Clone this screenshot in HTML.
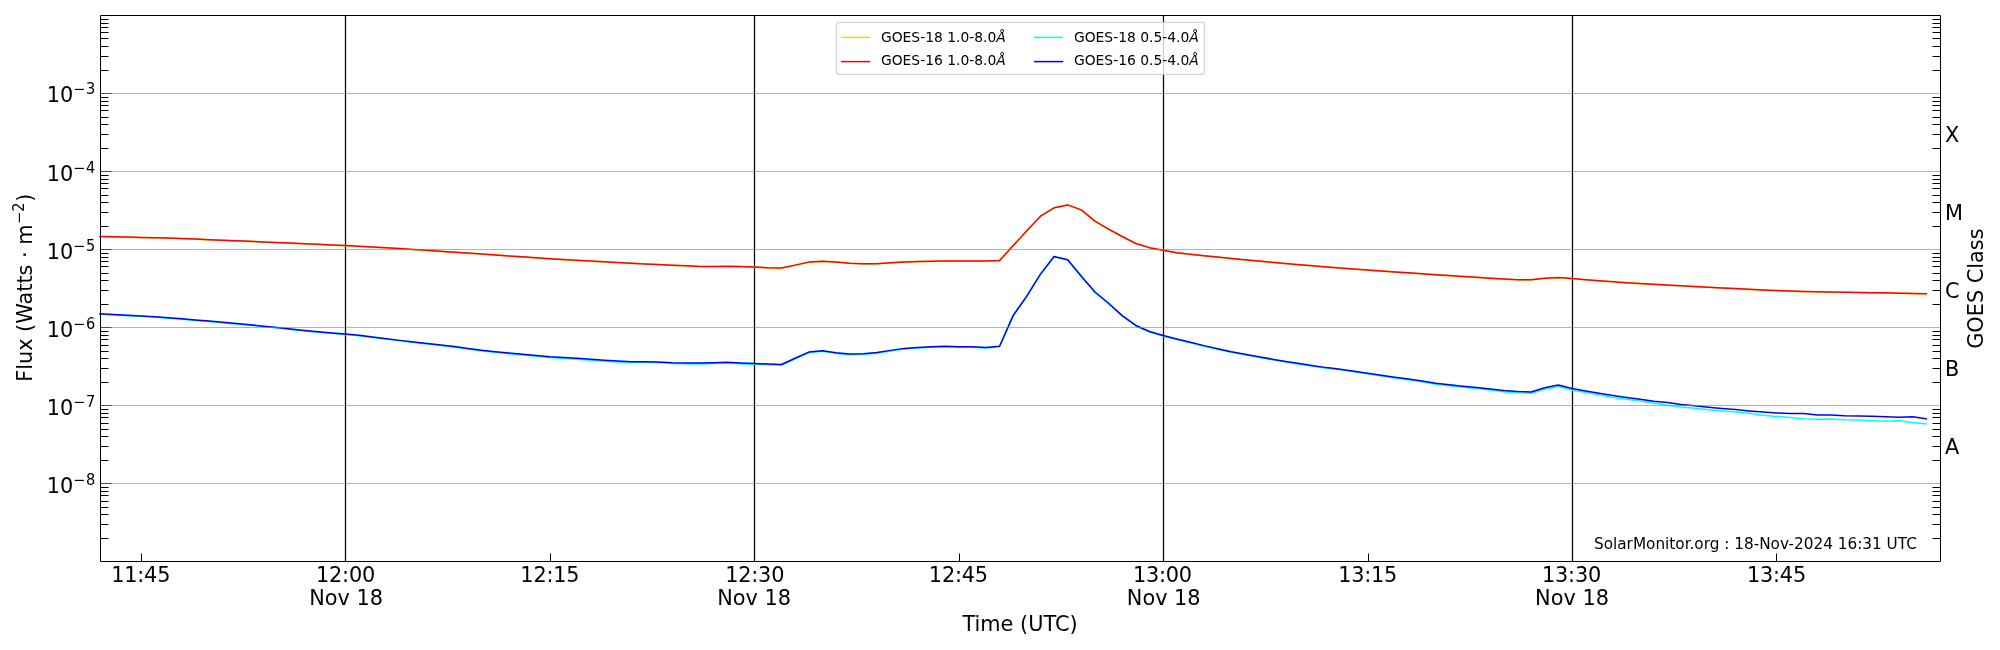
<!DOCTYPE html>
<html lang="en"><head><meta charset="utf-8"><title>GOES X-ray Flux</title>
<style>html,body{margin:0;padding:0;background:#fff}svg{display:block;will-change:transform}text{font-family:'DejaVu Sans','Liberation Sans',sans-serif;fill:#000}</style></head><body>
<svg width="2000" height="650" viewBox="0 0 2000 650">
<rect x="0" y="0" width="2000" height="650" fill="#ffffff"/>
<g stroke="#000" stroke-width="1.25" fill="none">
<line x1="345.5" y1="15.5" x2="345.5" y2="561.5"/>
<line x1="754.5" y1="15.5" x2="754.5" y2="561.5"/>
<line x1="1163.5" y1="15.5" x2="1163.5" y2="561.5"/>
<line x1="1572.5" y1="15.5" x2="1572.5" y2="561.5"/>
</g>
<g fill="none" stroke-width="1.5" stroke-linejoin="round" stroke-linecap="square">
<polyline stroke="#ffd700" points="100.00,236.65 113.63,236.94 127.26,237.25 140.89,237.55 154.52,237.86 168.15,238.18 181.78,238.72 195.41,239.27 209.04,239.81 222.67,240.36 236.30,240.90 249.93,241.45 263.56,242.05 277.19,242.65 290.81,243.24 304.44,243.84 318.07,244.44 331.70,245.04 345.33,245.64 358.96,246.42 372.59,247.19 386.22,247.97 399.85,248.74 413.48,249.63 427.11,250.52 440.74,251.41 454.37,252.30 468.00,253.19 481.63,254.12 495.26,255.08 508.89,256.04 522.52,257.01 536.15,257.97 549.78,258.93 563.41,259.70 577.04,260.46 590.67,261.23 604.30,261.99 617.93,262.75 631.56,263.45 645.19,264.08 658.81,264.71 672.44,265.33 686.07,265.96 699.70,266.59 713.33,266.53 726.96,266.45 740.59,266.74 754.22,267.04 767.85,267.91 781.48,268.14 795.11,265.26 808.74,262.27 822.37,261.38 836.00,262.12 849.63,263.30 863.26,263.93 876.89,263.85 890.52,262.92 904.15,262.08 917.78,261.75 931.41,261.41 945.04,261.07 958.67,261.11 972.30,261.18 985.93,261.24 999.56,260.67 1013.19,245.74 1026.81,230.78 1040.44,216.34 1054.07,207.96 1067.70,205.05 1081.33,210.03 1094.96,221.30 1108.59,229.26 1122.22,236.66 1135.85,243.67 1149.48,247.80 1163.11,250.36 1176.74,252.85 1190.37,254.49 1204.00,255.85 1217.63,257.20 1231.26,258.55 1244.89,259.91 1258.52,261.26 1272.15,262.50 1285.78,263.65 1299.41,264.79 1313.04,265.94 1326.67,267.08 1340.30,268.22 1353.93,269.17 1367.56,270.13 1381.19,271.08 1394.81,272.04 1408.44,272.99 1422.07,273.91 1435.70,274.80 1449.33,275.69 1462.96,276.58 1476.59,277.47 1490.22,278.36 1503.85,279.09 1517.48,279.82 1531.11,279.99 1544.74,278.42 1558.37,277.63 1572.00,278.61 1585.63,279.80 1599.26,280.83 1612.89,281.86 1626.52,282.89 1640.15,283.70 1653.78,284.43 1667.41,285.17 1681.04,285.91 1694.67,286.64 1708.30,287.37 1721.93,288.07 1735.56,288.77 1749.19,289.47 1762.81,290.16 1776.44,290.71 1790.07,291.21 1803.70,291.54 1817.33,291.87 1830.96,292.15 1844.59,292.36 1858.22,292.58 1871.85,292.80 1885.48,293.02 1899.11,293.30 1912.74,293.59 1926.37,293.89"/>
<polyline stroke="#ff0000" points="100.00,236.50 113.63,236.79 127.26,237.10 140.89,237.40 154.52,237.71 168.15,238.03 181.78,238.57 195.41,239.12 209.04,239.66 222.67,240.21 236.30,240.75 249.93,241.30 263.56,241.90 277.19,242.50 290.81,243.09 304.44,243.69 318.07,244.29 331.70,244.89 345.33,245.49 358.96,246.27 372.59,247.04 386.22,247.82 399.85,248.59 413.48,249.48 427.11,250.37 440.74,251.26 454.37,252.15 468.00,253.04 481.63,253.97 495.26,254.93 508.89,255.89 522.52,256.86 536.15,257.82 549.78,258.78 563.41,259.55 577.04,260.31 590.67,261.08 604.30,261.84 617.93,262.60 631.56,263.30 645.19,263.93 658.81,264.56 672.44,265.18 686.07,265.81 699.70,266.44 713.33,266.38 726.96,266.30 740.59,266.59 754.22,266.89 767.85,267.76 781.48,267.99 795.11,265.11 808.74,262.12 822.37,261.23 836.00,261.97 849.63,263.15 863.26,263.78 876.89,263.70 890.52,262.77 904.15,261.93 917.78,261.60 931.41,261.26 945.04,260.92 958.67,260.96 972.30,261.03 985.93,261.09 999.56,260.52 1013.19,245.59 1026.81,230.63 1040.44,216.19 1054.07,207.81 1067.70,204.90 1081.33,209.88 1094.96,221.15 1108.59,229.11 1122.22,236.51 1135.85,243.52 1149.48,247.65 1163.11,250.21 1176.74,252.70 1190.37,254.34 1204.00,255.70 1217.63,257.05 1231.26,258.40 1244.89,259.76 1258.52,261.11 1272.15,262.35 1285.78,263.50 1299.41,264.64 1313.04,265.79 1326.67,266.93 1340.30,268.07 1353.93,269.02 1367.56,269.98 1381.19,270.93 1394.81,271.89 1408.44,272.84 1422.07,273.76 1435.70,274.65 1449.33,275.54 1462.96,276.43 1476.59,277.32 1490.22,278.21 1503.85,278.94 1517.48,279.67 1531.11,279.84 1544.74,278.27 1558.37,277.48 1572.00,278.46 1585.63,279.65 1599.26,280.68 1612.89,281.71 1626.52,282.74 1640.15,283.55 1653.78,284.28 1667.41,285.02 1681.04,285.76 1694.67,286.49 1708.30,287.22 1721.93,287.92 1735.56,288.62 1749.19,289.32 1762.81,290.01 1776.44,290.56 1790.07,291.06 1803.70,291.39 1817.33,291.72 1830.96,292.00 1844.59,292.21 1858.22,292.43 1871.85,292.65 1885.48,292.87 1899.11,293.15 1912.74,293.44 1926.37,293.74"/>
<polyline stroke="#00ffff" points="100.00,314.25 113.63,314.93 127.26,315.64 140.89,316.35 154.52,317.11 168.15,318.20 181.78,319.29 195.41,320.38 209.04,321.47 222.67,322.69 236.30,323.94 249.93,325.19 263.56,326.62 277.19,328.05 290.81,329.49 304.44,330.92 318.07,332.18 331.70,333.33 345.33,334.49 358.96,335.81 372.59,337.41 386.22,339.12 399.85,340.83 413.48,342.38 427.11,343.96 440.74,345.56 454.37,347.16 468.00,349.09 481.63,351.03 495.26,352.37 508.89,353.67 522.52,354.96 536.15,356.26 549.78,357.56 563.41,358.40 577.04,359.22 590.67,360.19 604.30,361.21 617.93,361.95 631.56,362.49 645.19,362.59 658.81,362.71 672.44,363.45 686.07,363.71 699.70,363.90 713.33,363.50 726.96,363.09 740.59,363.64 754.22,364.22 767.85,364.86 781.48,365.21 795.11,358.94 808.74,352.79 822.37,351.33 836.00,353.38 849.63,354.75 863.26,354.35 876.89,353.17 890.52,350.99 904.15,348.98 917.78,348.02 931.41,347.20 945.04,346.72 958.67,347.32 972.30,347.18 985.93,347.93 999.56,346.70 1013.19,315.87 1026.81,296.48 1040.44,274.47 1054.07,256.89 1067.70,260.07 1081.33,276.53 1094.96,292.33 1108.59,303.66 1122.22,316.01 1135.85,325.87 1149.48,331.95 1163.11,335.91 1176.74,339.42 1190.37,342.66 1204.00,346.15 1217.63,349.24 1231.26,352.26 1244.89,354.83 1258.52,357.35 1272.15,359.70 1285.78,361.99 1299.41,364.18 1313.04,366.24 1326.67,368.21 1340.30,369.80 1353.93,371.80 1367.56,373.80 1381.19,375.90 1394.81,378.00 1408.44,379.80 1422.07,381.80 1435.70,384.30 1449.33,385.80 1462.96,387.20 1476.59,388.60 1490.22,390.10 1503.85,391.80 1517.48,392.80 1531.11,393.20 1544.74,389.20 1558.37,386.40 1572.00,390.00 1585.63,392.40 1599.26,394.80 1612.89,397.40 1626.52,399.20 1640.15,401.00 1653.78,403.00 1667.41,405.20 1681.04,407.00 1694.67,408.20 1708.30,409.70 1721.93,411.00 1735.56,412.10 1749.19,413.20 1762.81,415.20 1776.44,416.40 1790.07,417.60 1803.70,418.70 1817.33,419.30 1830.96,419.00 1844.59,419.80 1858.22,420.10 1871.85,420.70 1885.48,421.20 1899.11,420.80 1912.74,422.60 1926.37,424.00"/>
<polyline stroke="#0000ff" points="100.00,313.80 113.63,314.48 127.26,315.19 140.89,315.90 154.52,316.66 168.15,317.75 181.78,318.84 195.41,319.93 209.04,321.02 222.67,322.24 236.30,323.49 249.93,324.74 263.56,326.17 277.19,327.60 290.81,329.04 304.44,330.47 318.07,331.73 331.70,332.88 345.33,334.04 358.96,335.36 372.59,336.96 386.22,338.67 399.85,340.38 413.48,341.93 427.11,343.48 440.74,345.02 454.37,346.57 468.00,348.44 481.63,350.33 495.26,351.64 508.89,352.91 522.52,354.19 536.15,355.46 549.78,356.73 563.41,357.55 577.04,358.37 590.67,359.35 604.30,360.37 617.93,361.12 631.56,361.66 645.19,361.77 658.81,361.89 672.44,362.64 686.07,362.91 699.70,363.10 713.33,362.71 726.96,362.32 740.59,362.88 754.22,363.48 767.85,364.12 781.48,364.49 795.11,358.23 808.74,352.10 822.37,350.65 836.00,352.72 849.63,354.10 863.26,353.72 876.89,352.55 890.52,350.38 904.15,348.38 917.78,347.43 931.41,346.63 945.04,346.17 958.67,346.77 972.30,346.66 985.93,347.42 999.56,346.20 1013.19,315.41 1026.81,296.07 1040.44,274.10 1054.07,256.57 1067.70,259.75 1081.33,276.20 1094.96,291.98 1108.59,303.29 1122.22,315.62 1135.85,325.46 1149.48,331.53 1163.11,335.46 1176.74,338.96 1190.37,342.18 1204.00,345.64 1217.63,348.73 1231.26,351.74 1244.89,354.30 1258.52,356.81 1272.15,359.15 1285.78,361.42 1299.41,363.61 1313.04,365.66 1326.67,367.62 1340.30,369.20 1353.93,371.20 1367.56,373.20 1381.19,375.30 1394.81,377.20 1408.44,379.00 1422.07,381.00 1435.70,383.30 1449.33,384.80 1462.96,386.20 1476.59,387.40 1490.22,388.90 1503.85,390.60 1517.48,391.60 1531.11,391.96 1544.74,387.80 1558.37,385.00 1572.00,388.60 1585.63,391.00 1599.26,393.20 1612.89,395.40 1626.52,397.40 1640.15,399.30 1653.78,401.20 1667.41,402.60 1681.04,404.60 1694.67,405.80 1708.30,407.30 1721.93,408.60 1735.56,409.60 1749.19,410.90 1762.81,412.00 1776.44,412.90 1790.07,413.50 1803.70,413.60 1817.33,415.10 1830.96,415.00 1844.59,415.70 1858.22,415.90 1871.85,416.30 1885.48,416.80 1899.11,417.20 1912.74,416.80 1926.37,418.80"/>
</g>
<g stroke="#000" stroke-width="1.05" fill="none">
<line x1="100.5" y1="538.5" x2="108.5" y2="538.5"/>
<line x1="1940.5" y1="538.5" x2="1932.5" y2="538.5"/>
<line x1="100.5" y1="524.5" x2="108.5" y2="524.5"/>
<line x1="1940.5" y1="524.5" x2="1932.5" y2="524.5"/>
<line x1="100.5" y1="514.5" x2="108.5" y2="514.5"/>
<line x1="1940.5" y1="514.5" x2="1932.5" y2="514.5"/>
<line x1="100.5" y1="507.5" x2="108.5" y2="507.5"/>
<line x1="1940.5" y1="507.5" x2="1932.5" y2="507.5"/>
<line x1="100.5" y1="501.5" x2="108.5" y2="501.5"/>
<line x1="1940.5" y1="501.5" x2="1932.5" y2="501.5"/>
<line x1="100.5" y1="495.5" x2="108.5" y2="495.5"/>
<line x1="1940.5" y1="495.5" x2="1932.5" y2="495.5"/>
<line x1="100.5" y1="491.5" x2="108.5" y2="491.5"/>
<line x1="1940.5" y1="491.5" x2="1932.5" y2="491.5"/>
<line x1="100.5" y1="487.5" x2="108.5" y2="487.5"/>
<line x1="1940.5" y1="487.5" x2="1932.5" y2="487.5"/>
<line x1="100.5" y1="483.5" x2="111.5" y2="483.5"/>
<line x1="100.5" y1="460.5" x2="108.5" y2="460.5"/>
<line x1="1940.5" y1="460.5" x2="1932.5" y2="460.5"/>
<line x1="100.5" y1="446.5" x2="108.5" y2="446.5"/>
<line x1="1940.5" y1="446.5" x2="1932.5" y2="446.5"/>
<line x1="100.5" y1="436.5" x2="108.5" y2="436.5"/>
<line x1="1940.5" y1="436.5" x2="1932.5" y2="436.5"/>
<line x1="100.5" y1="429.5" x2="108.5" y2="429.5"/>
<line x1="1940.5" y1="429.5" x2="1932.5" y2="429.5"/>
<line x1="100.5" y1="423.5" x2="108.5" y2="423.5"/>
<line x1="1940.5" y1="423.5" x2="1932.5" y2="423.5"/>
<line x1="100.5" y1="417.5" x2="108.5" y2="417.5"/>
<line x1="1940.5" y1="417.5" x2="1932.5" y2="417.5"/>
<line x1="100.5" y1="413.5" x2="108.5" y2="413.5"/>
<line x1="1940.5" y1="413.5" x2="1932.5" y2="413.5"/>
<line x1="100.5" y1="409.5" x2="108.5" y2="409.5"/>
<line x1="1940.5" y1="409.5" x2="1932.5" y2="409.5"/>
<line x1="100.5" y1="405.5" x2="111.5" y2="405.5"/>
<line x1="100.5" y1="382.5" x2="108.5" y2="382.5"/>
<line x1="1940.5" y1="382.5" x2="1932.5" y2="382.5"/>
<line x1="100.5" y1="368.5" x2="108.5" y2="368.5"/>
<line x1="1940.5" y1="368.5" x2="1932.5" y2="368.5"/>
<line x1="100.5" y1="358.5" x2="108.5" y2="358.5"/>
<line x1="1940.5" y1="358.5" x2="1932.5" y2="358.5"/>
<line x1="100.5" y1="351.5" x2="108.5" y2="351.5"/>
<line x1="1940.5" y1="351.5" x2="1932.5" y2="351.5"/>
<line x1="100.5" y1="345.5" x2="108.5" y2="345.5"/>
<line x1="1940.5" y1="345.5" x2="1932.5" y2="345.5"/>
<line x1="100.5" y1="339.5" x2="108.5" y2="339.5"/>
<line x1="1940.5" y1="339.5" x2="1932.5" y2="339.5"/>
<line x1="100.5" y1="335.5" x2="108.5" y2="335.5"/>
<line x1="1940.5" y1="335.5" x2="1932.5" y2="335.5"/>
<line x1="100.5" y1="331.5" x2="108.5" y2="331.5"/>
<line x1="1940.5" y1="331.5" x2="1932.5" y2="331.5"/>
<line x1="100.5" y1="327.5" x2="111.5" y2="327.5"/>
<line x1="100.5" y1="304.5" x2="108.5" y2="304.5"/>
<line x1="1940.5" y1="304.5" x2="1932.5" y2="304.5"/>
<line x1="100.5" y1="290.5" x2="108.5" y2="290.5"/>
<line x1="1940.5" y1="290.5" x2="1932.5" y2="290.5"/>
<line x1="100.5" y1="280.5" x2="108.5" y2="280.5"/>
<line x1="1940.5" y1="280.5" x2="1932.5" y2="280.5"/>
<line x1="100.5" y1="273.5" x2="108.5" y2="273.5"/>
<line x1="1940.5" y1="273.5" x2="1932.5" y2="273.5"/>
<line x1="100.5" y1="266.5" x2="108.5" y2="266.5"/>
<line x1="1940.5" y1="266.5" x2="1932.5" y2="266.5"/>
<line x1="100.5" y1="261.5" x2="108.5" y2="261.5"/>
<line x1="1940.5" y1="261.5" x2="1932.5" y2="261.5"/>
<line x1="100.5" y1="257.5" x2="108.5" y2="257.5"/>
<line x1="1940.5" y1="257.5" x2="1932.5" y2="257.5"/>
<line x1="100.5" y1="253.5" x2="108.5" y2="253.5"/>
<line x1="1940.5" y1="253.5" x2="1932.5" y2="253.5"/>
<line x1="100.5" y1="249.5" x2="111.5" y2="249.5"/>
<line x1="100.5" y1="226.5" x2="108.5" y2="226.5"/>
<line x1="1940.5" y1="226.5" x2="1932.5" y2="226.5"/>
<line x1="100.5" y1="212.5" x2="108.5" y2="212.5"/>
<line x1="1940.5" y1="212.5" x2="1932.5" y2="212.5"/>
<line x1="100.5" y1="202.5" x2="108.5" y2="202.5"/>
<line x1="1940.5" y1="202.5" x2="1932.5" y2="202.5"/>
<line x1="100.5" y1="195.5" x2="108.5" y2="195.5"/>
<line x1="1940.5" y1="195.5" x2="1932.5" y2="195.5"/>
<line x1="100.5" y1="188.5" x2="108.5" y2="188.5"/>
<line x1="1940.5" y1="188.5" x2="1932.5" y2="188.5"/>
<line x1="100.5" y1="183.5" x2="108.5" y2="183.5"/>
<line x1="1940.5" y1="183.5" x2="1932.5" y2="183.5"/>
<line x1="100.5" y1="179.5" x2="108.5" y2="179.5"/>
<line x1="1940.5" y1="179.5" x2="1932.5" y2="179.5"/>
<line x1="100.5" y1="175.5" x2="108.5" y2="175.5"/>
<line x1="1940.5" y1="175.5" x2="1932.5" y2="175.5"/>
<line x1="100.5" y1="171.5" x2="111.5" y2="171.5"/>
<line x1="100.5" y1="148.5" x2="108.5" y2="148.5"/>
<line x1="1940.5" y1="148.5" x2="1932.5" y2="148.5"/>
<line x1="100.5" y1="134.5" x2="108.5" y2="134.5"/>
<line x1="1940.5" y1="134.5" x2="1932.5" y2="134.5"/>
<line x1="100.5" y1="124.5" x2="108.5" y2="124.5"/>
<line x1="1940.5" y1="124.5" x2="1932.5" y2="124.5"/>
<line x1="100.5" y1="117.5" x2="108.5" y2="117.5"/>
<line x1="1940.5" y1="117.5" x2="1932.5" y2="117.5"/>
<line x1="100.5" y1="110.5" x2="108.5" y2="110.5"/>
<line x1="1940.5" y1="110.5" x2="1932.5" y2="110.5"/>
<line x1="100.5" y1="105.5" x2="108.5" y2="105.5"/>
<line x1="1940.5" y1="105.5" x2="1932.5" y2="105.5"/>
<line x1="100.5" y1="101.5" x2="108.5" y2="101.5"/>
<line x1="1940.5" y1="101.5" x2="1932.5" y2="101.5"/>
<line x1="100.5" y1="97.5" x2="108.5" y2="97.5"/>
<line x1="1940.5" y1="97.5" x2="1932.5" y2="97.5"/>
<line x1="100.5" y1="93.5" x2="111.5" y2="93.5"/>
<line x1="100.5" y1="70.5" x2="108.5" y2="70.5"/>
<line x1="1940.5" y1="70.5" x2="1932.5" y2="70.5"/>
<line x1="100.5" y1="56.5" x2="108.5" y2="56.5"/>
<line x1="1940.5" y1="56.5" x2="1932.5" y2="56.5"/>
<line x1="100.5" y1="46.5" x2="108.5" y2="46.5"/>
<line x1="1940.5" y1="46.5" x2="1932.5" y2="46.5"/>
<line x1="100.5" y1="38.5" x2="108.5" y2="38.5"/>
<line x1="1940.5" y1="38.5" x2="1932.5" y2="38.5"/>
<line x1="100.5" y1="32.5" x2="108.5" y2="32.5"/>
<line x1="1940.5" y1="32.5" x2="1932.5" y2="32.5"/>
<line x1="100.5" y1="27.5" x2="108.5" y2="27.5"/>
<line x1="1940.5" y1="27.5" x2="1932.5" y2="27.5"/>
<line x1="100.5" y1="23.5" x2="108.5" y2="23.5"/>
<line x1="1940.5" y1="23.5" x2="1932.5" y2="23.5"/>
<line x1="100.5" y1="19.5" x2="108.5" y2="19.5"/>
<line x1="1940.5" y1="19.5" x2="1932.5" y2="19.5"/>
<line x1="141.5" y1="561.5" x2="141.5" y2="553.5"/>
<line x1="345.5" y1="561.5" x2="345.5" y2="553.5"/>
<line x1="550.5" y1="561.5" x2="550.5" y2="553.5"/>
<line x1="754.5" y1="561.5" x2="754.5" y2="553.5"/>
<line x1="959.5" y1="561.5" x2="959.5" y2="553.5"/>
<line x1="1163.5" y1="561.5" x2="1163.5" y2="553.5"/>
<line x1="1368.5" y1="561.5" x2="1368.5" y2="553.5"/>
<line x1="1572.5" y1="561.5" x2="1572.5" y2="553.5"/>
<line x1="1776.5" y1="561.5" x2="1776.5" y2="553.5"/>
</g>
<g stroke="#808080" stroke-opacity="0.6" stroke-width="1" fill="none">
<line x1="100.5" y1="483.5" x2="1940.5" y2="483.5"/>
<line x1="100.5" y1="405.5" x2="1940.5" y2="405.5"/>
<line x1="100.5" y1="327.5" x2="1940.5" y2="327.5"/>
<line x1="100.5" y1="249.5" x2="1940.5" y2="249.5"/>
<line x1="100.5" y1="171.5" x2="1940.5" y2="171.5"/>
<line x1="100.5" y1="93.5" x2="1940.5" y2="93.5"/>
</g>
<path d="M100.5,15.5H1940.5V561.5H100.5Z" fill="none" stroke="#000" stroke-width="1" stroke-linejoin="miter"/>
<g font-size="20.83">
<text x="46.7" y="492.95">10</text>
<text x="72.9" y="484.75" font-size="14.58">−</text>
<text transform="translate(85.9,484.90) scale(1,1.1)" font-size="14.58">8</text>
<text x="46.7" y="414.95">10</text>
<text x="72.9" y="406.75" font-size="14.58">−</text>
<text transform="translate(85.9,406.90) scale(1,1.1)" font-size="14.58">7</text>
<text x="46.7" y="336.95">10</text>
<text x="72.9" y="328.75" font-size="14.58">−</text>
<text transform="translate(85.9,328.90) scale(1,1.1)" font-size="14.58">6</text>
<text x="46.7" y="258.95">10</text>
<text x="72.9" y="250.75" font-size="14.58">−</text>
<text transform="translate(85.9,250.90) scale(1,1.1)" font-size="14.58">5</text>
<text x="46.7" y="180.95">10</text>
<text x="72.9" y="172.75" font-size="14.58">−</text>
<text transform="translate(85.9,172.90) scale(1,1.1)" font-size="14.58">4</text>
<text x="46.7" y="101.90">10</text>
<text x="72.9" y="93.70" font-size="14.58">−</text>
<text transform="translate(85.9,93.85) scale(1,1.1)" font-size="14.58">3</text>
<text x="140.69" y="581.9" text-anchor="middle" letter-spacing="-0.2">11:45</text>
<text x="345.53" y="581.9" text-anchor="middle" letter-spacing="-0.2">12:00</text>
<text x="346.13" y="604.8" text-anchor="middle">Nov 18</text>
<text x="549.88" y="581.9" text-anchor="middle" letter-spacing="-0.2">12:15</text>
<text x="754.72" y="581.9" text-anchor="middle" letter-spacing="-0.2">12:30</text>
<text x="754.12" y="604.8" text-anchor="middle">Nov 18</text>
<text x="958.37" y="581.9" text-anchor="middle" letter-spacing="-0.2">12:45</text>
<text x="1162.41" y="581.9" text-anchor="middle" letter-spacing="-0.2">13:00</text>
<text x="1163.71" y="604.8" text-anchor="middle">Nov 18</text>
<text x="1367.66" y="581.9" text-anchor="middle" letter-spacing="-0.2">13:15</text>
<text x="1571.50" y="581.9" text-anchor="middle" letter-spacing="-0.2">13:30</text>
<text x="1572.00" y="604.8" text-anchor="middle">Nov 18</text>
<text x="1776.44" y="581.9" text-anchor="middle" letter-spacing="-0.2">13:45</text>
<text x="1020.00" y="630.5" text-anchor="middle">Time (UTC)</text>
<text transform="translate(32.3,287.8) rotate(-90)" x="-94.0" y="0">Flux (Watts · m</text>
<text transform="translate(32.3,287.8) rotate(-90)" x="63.9" y="-7.9" font-size="14.58">−</text>
<text transform="translate(32.3,287.8) rotate(-90) translate(76.1,-7.9) scale(1,1.12)" font-size="14.58">2</text>
<text transform="translate(32.3,287.8) rotate(-90)" x="86.0" y="0">)</text>
<text transform="translate(1983.2,288.6) rotate(-90)" text-anchor="middle">GOES Class</text>
<text x="1945.0" y="454.10">A</text>
<text x="1945.0" y="376.10">B</text>
<text x="1945.0" y="298.10">C</text>
<text x="1945.0" y="220.10">M</text>
<text x="1945.0" y="142.10">X</text>
</g>
<text x="1916.9" y="549" font-size="15.28" text-anchor="end">SolarMonitor.org : 18-Nov-2024 16:31 UTC</text>
<rect x="836.4" y="22.4" width="368" height="52" rx="2.8" ry="2.8" fill="#fff" fill-opacity="0.8" stroke="#ccc" stroke-opacity="0.8" stroke-width="1.39"/>
<g fill="none" stroke-width="1.5">
<line x1="841.0" y1="37.4" x2="870.2" y2="37.4" stroke="#ffd700"/>
<line x1="841.0" y1="61.6" x2="870.2" y2="61.6" stroke="#ff0000"/>
<line x1="1034.0" y1="37.4" x2="1063.2" y2="37.4" stroke="#00ffff"/>
<line x1="1034.0" y1="61.6" x2="1063.2" y2="61.6" stroke="#0000ff"/>
</g>
<g font-size="13.89">
<text x="880.9" y="42.0">GOES-18 1.0-8.0<tspan font-style="italic">Å</tspan></text>
<text x="880.9" y="65.0">GOES-16 1.0-8.0<tspan font-style="italic">Å</tspan></text>
<text x="1073.9" y="42.0">GOES-18 0.5-4.0<tspan font-style="italic">Å</tspan></text>
<text x="1073.9" y="65.0">GOES-16 0.5-4.0<tspan font-style="italic">Å</tspan></text>
</g>
</svg></body></html>
